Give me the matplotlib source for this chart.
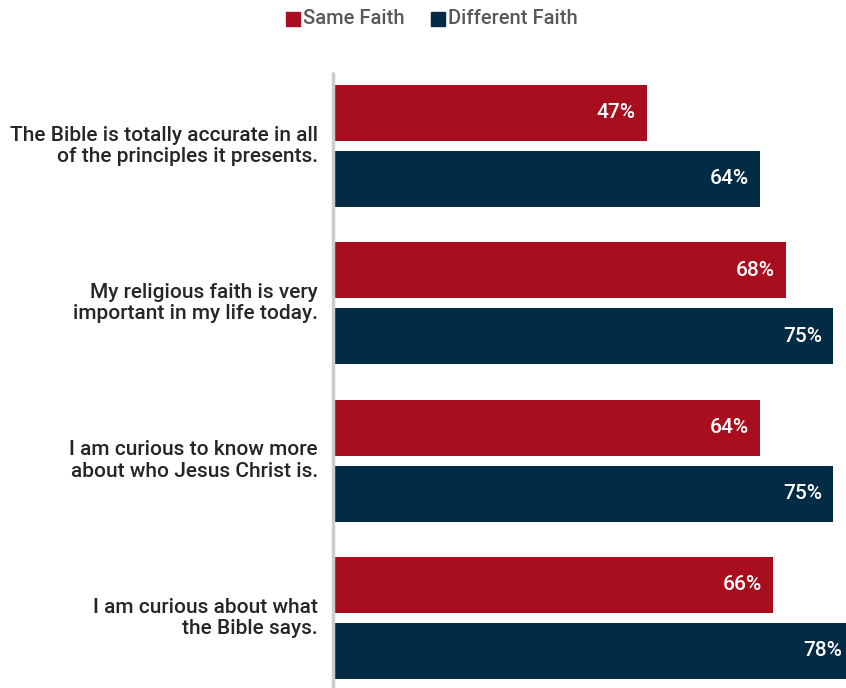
import matplotlib
matplotlib.use("Agg")
import matplotlib.pyplot as plt
from matplotlib.patches import Rectangle

categories = [
    "The Bible is totally accurate in all\nof the principles it presents.",
    "My religious faith is very\nimportant in my life today.",
    "I am curious to know more\nabout who Jesus Christ is.",
    "I am curious about what\nthe Bible says.",
]
series_names = ["Same Faith", "Different Faith"]
same_faith = [47, 68, 64, 66]
different_faith = [64, 75, 75, 78]
colors = ["#A80E1E", "#022B46"]

plt.rcParams["font.family"] = ["Roboto", "DejaVu Sans"]

W, H = 846, 688
fig = plt.figure(figsize=(W / 100, H / 100), dpi=100)
ax_left, ax_top, ax_bottom = 334, 72, 688
ax = fig.add_axes([ax_left / W, 1 - ax_bottom / H, (W - ax_left) / W, (ax_bottom - ax_top) / H])

pitch = 157.3
bar_h = 56 / pitch
off = 33 / pitch
px_per_unit = 6.65

ys = list(range(len(categories)))
for i, y in enumerate(ys):
    for val, dy, col in ((same_faith[i], -off, colors[0]), (different_faith[i], off, colors[1])):
        ax.barh(y + dy, val, height=bar_h, color=col, left=0)
        ax.text(val - 11 / px_per_unit, y + dy, f"{val}%", ha="right", va="center",
                color="white", fontsize=15, fontweight="medium")
    ax.text(-16 / (W - ax_left), y, categories[i], transform=ax.get_yaxis_transform(),
            ha="right", va="center", fontsize=15, color="#262626", linespacing=1.15,
            fontweight="medium")
ax.set_xlim(0, (W - ax_left) / px_per_unit)
ax.set_ylim((ax_bottom - 146) / pitch, (ax_top - 146) / pitch)
ax.axis("off")
ax.plot([-1.5 / px_per_unit] * 2, [(ax_bottom - 146) / pitch, (ax_top - 146) / pitch],
        color="#CCCCCC", lw=2.5, clip_on=False, solid_capstyle="butt")

# legend
lx = [286, 431]
for x, name, col in zip(lx, series_names, colors):
    fig.patches.append(Rectangle((x / W, 1 - 26 / H), 14 / W, 14 / H, transform=fig.transFigure,
                                 color=col))
    fig.text((x + 17) / W, 1 - 19 / H, name, ha="left", va="center", fontsize=14.5,
             color="#595959", fontweight="medium")

fig.savefig("out.png", dpi=100)
